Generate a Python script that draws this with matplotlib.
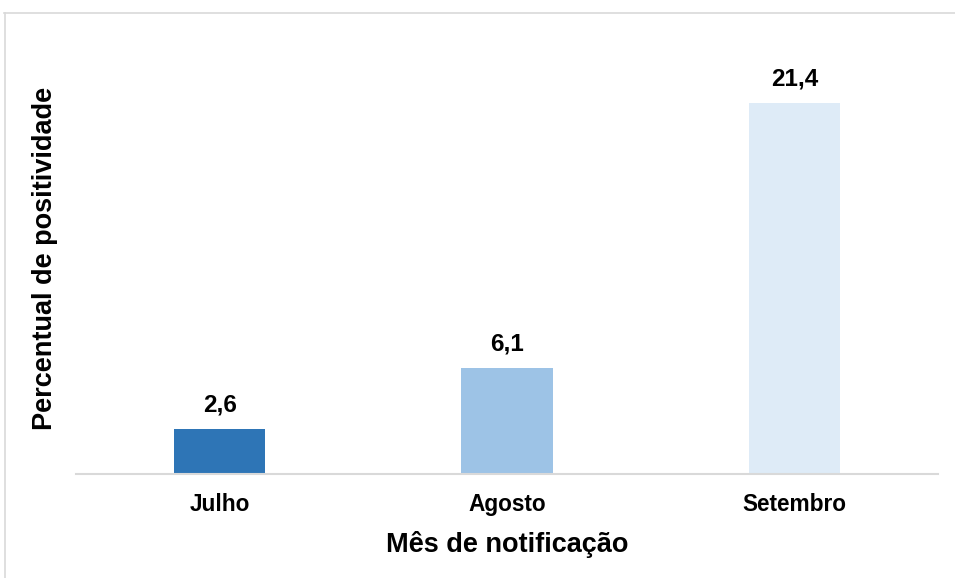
import matplotlib.pyplot as plt
from matplotlib.lines import Line2D

meses = ['Julho', 'Agosto', 'Setembro']
percentual = [2.6, 6.1, 21.4]
rotulos = ['2,6', '6,1', '21,4']
cores = ['#2E75B6', '#9DC3E6', '#DEEBF7']

plt.rcParams['font.family'] = ['Liberation Sans', 'DejaVu Sans']

fig = plt.figure(figsize=(9.55, 5.78), dpi=100)
ax = fig.add_axes([76 / 955, 1 - 474 / 578, (938 - 76) / 955, 0.9 - (1 - 474 / 578)])

x = range(len(meses))
barras = ax.bar(x, percentual, width=0.317, color=cores)
for b, txt in zip(barras, rotulos):
    ax.annotate(txt, (b.get_x() + b.get_width() / 2, b.get_height()),
                xytext=(0, 9), textcoords='offset points', ha='center', va='bottom',
                fontsize=17.5, fontweight='bold')

ax.set_xlim(-0.5, 2.5)
ax.set_ylim(0, 24)
ax.set_xticks(list(x))
ax.set_xticklabels(meses, fontsize=16.3, fontweight='bold')
ax.tick_params(axis='x', length=0, pad=14)
ax.set_yticks([])
for s in ['top', 'right', 'left']:
    ax.spines[s].set_visible(False)
ax.spines['bottom'].set_color('#D9D9D9')
ax.spines['bottom'].set_linewidth(1.5)

ax.set_xlabel('Mês de notificação', fontsize=19.5, fontweight='bold', labelpad=10.5)
ax.set_ylabel('Percentual de positividade', fontsize=19.5, fontweight='bold')
ax.yaxis.set_label_coords(-0.021, 0.519)

# moldura cinza clara
fig.add_artist(Line2D([4 / 955, 1], [1 - 13 / 578, 1 - 13 / 578], color='#D9D9D9', lw=1.2))
fig.add_artist(Line2D([5 / 955, 5 / 955], [0, 1 - 13 / 578], color='#D9D9D9', lw=1.2))

fig.savefig('out.png', dpi=100)
